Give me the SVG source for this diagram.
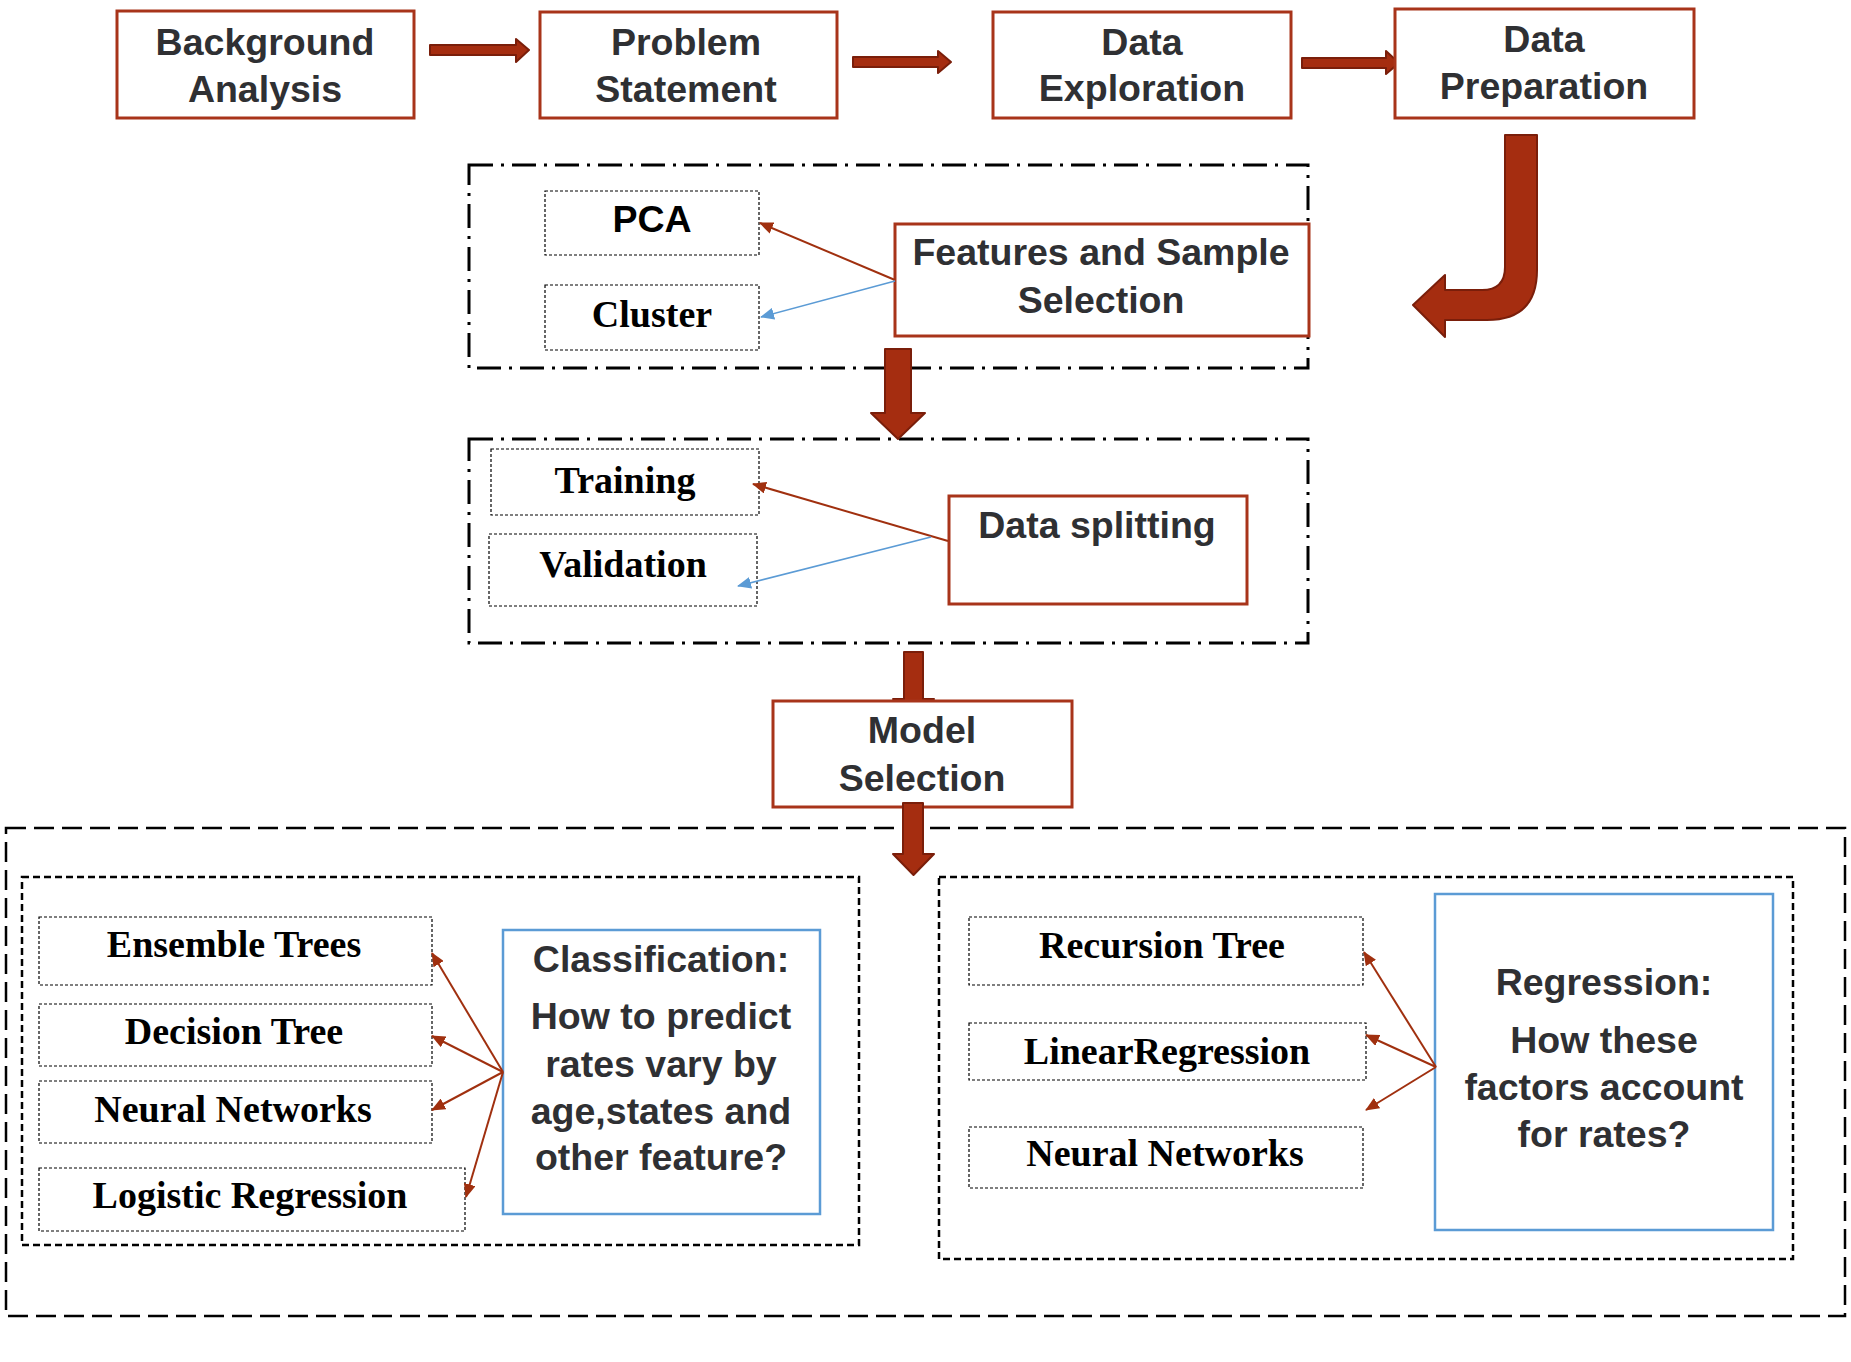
<svg xmlns="http://www.w3.org/2000/svg" width="1851" height="1362" viewBox="0 0 1851 1362">
<style>
.box{fill:#fff;stroke:#A8341A;stroke-width:3}
.bbox{fill:#fff;stroke:#5B9BD5;stroke-width:2.5}
.item{fill:none;stroke:#000;stroke-width:1.2;stroke-dasharray:3 2}
.dd{fill:none;stroke:#000;stroke-width:3;stroke-dasharray:24 8 3 8}
.outer{fill:none;stroke:#000;stroke-width:2.5;stroke-dasharray:20 8}
.inner{fill:none;stroke:#000;stroke-width:2.5;stroke-dasharray:7 4}
.blk{fill:#A52D10;stroke:#7A1E0A;stroke-width:2;stroke-linejoin:round}
.sans{font-family:"Liberation Sans",Arial,sans-serif;font-weight:bold;font-size:37.5px;fill:#2F3033;text-anchor:middle}
.serif{font-family:"Liberation Serif","Times New Roman",serif;font-weight:bold;font-size:38px;fill:#000;text-anchor:middle}
.red{stroke:#A0300F;stroke-width:2;fill:none}
.blue{stroke:#5B9BD5;stroke-width:1.6;fill:none}
</style>
<defs>
<marker id="ar" markerUnits="userSpaceOnUse" markerWidth="14" markerHeight="12" refX="13" refY="6" orient="auto"><path d="M0,0 L14,6 L0,12 Z" fill="#A0300F"/></marker>
<marker id="ab" markerUnits="userSpaceOnUse" markerWidth="14" markerHeight="12" refX="13" refY="6" orient="auto"><path d="M0,0 L14,6 L0,12 Z" fill="#5B9BD5"/></marker>
</defs>
<rect width="1851" height="1362" fill="#fff"/>

<g id="containers">
<rect class="dd" x="469" y="165" width="839" height="203"/>
<rect class="dd" x="469" y="439" width="839" height="204"/>
<rect class="outer" x="6" y="828" width="1839" height="488"/>
<rect class="inner" x="22" y="877" width="837" height="368"/>
<rect class="inner" x="939" y="877" width="854" height="382"/>
</g>

<g id="block-arrows">
<polygon class="blk" points="430,45 516,45 516,39 529,50 516,62 516,55 430,55"/>
<polygon class="blk" points="853,57 938,57 938,51 951,62 938,73 938,67 853,67"/>
<polygon class="blk" points="1302,58 1386,58 1386,51 1399,63 1386,74 1386,68 1302,68"/>
<path class="blk" d="M1505,135 L1537,135 L1537,270 Q1537,320 1487,320 L1445,320 L1445,337 L1413,305 L1445,275 L1445,290 L1482,290 Q1505,290 1505,267 Z"/>
<polygon class="blk" points="885,349 911,349 911,413 925,413 898,439 871,413 885,413"/>
<polygon class="blk" points="904,652 923,652 923,699 934,699 913.5,725 893,699 904,699"/>
</g>

<g id="background-analysis">
<rect class="box" x="117" y="11" width="297" height="107"/>
<text class="sans" x="265" y="55">Background</text>
<text class="sans" x="265" y="102">Analysis</text>
</g>
<g id="problem-statement">
<rect class="box" x="540" y="12" width="297" height="106"/>
<text class="sans" x="686" y="55">Problem</text>
<text class="sans" x="686" y="102">Statement</text>
</g>
<g id="data-exploration">
<rect class="box" x="993" y="12" width="298" height="106"/>
<text class="sans" x="1142" y="55">Data</text>
<text class="sans" x="1142" y="101">Exploration</text>
</g>
<g id="data-preparation">
<rect class="box" x="1395" y="9" width="299" height="109"/>
<text class="sans" x="1544" y="52">Data</text>
<text class="sans" x="1544" y="99">Preparation</text>
</g>

<g id="pca">
<rect class="item" x="545" y="191" width="214" height="64"/>
<text class="sans" x="652" y="232" style="fill:#000">PCA</text>
</g>
<g id="cluster">
<rect class="item" x="545" y="285" width="214" height="65"/>
<text class="serif" x="652" y="327">Cluster</text>
</g>
<g id="features-sample-selection">
<rect class="box" x="895" y="224" width="414" height="112"/>
<text class="sans" x="1101" y="265">Features and Sample</text>
<text class="sans" x="1101" y="313">Selection</text>
</g>

<g id="training">
<rect class="item" x="491" y="449" width="268" height="66"/>
<text class="serif" x="625" y="493">Training</text>
</g>
<g id="validation">
<rect class="item" x="489" y="534" width="268" height="72"/>
<text class="serif" x="623" y="577">Validation</text>
</g>
<g id="data-splitting">
<rect class="box" x="949" y="496" width="298" height="108"/>
<text class="sans" x="1097" y="538">Data splitting</text>
</g>

<g id="model-selection">
<rect class="box" x="773" y="701" width="299" height="106"/>
<text class="sans" x="922" y="743">Model</text>
<text class="sans" x="922" y="791">Selection</text>
</g>
<polygon class="blk" points="903,803 923,803 923,854 934,854 913.5,875 893,854 903,854"/>

<g id="ensemble-trees">
<rect class="item" x="39" y="917" width="393" height="68"/>
<text class="serif" x="234" y="957">Ensemble Trees</text>
</g>
<g id="decision-tree">
<rect class="item" x="39" y="1004" width="393" height="62"/>
<text class="serif" x="234" y="1044">Decision Tree</text>
</g>
<g id="neural-networks-c">
<rect class="item" x="39" y="1081" width="393" height="62"/>
<text class="serif" x="233" y="1122">Neural Networks</text>
</g>
<g id="logistic-regression">
<rect class="item" x="39" y="1168" width="426" height="63"/>
<text class="serif" x="250" y="1208">Logistic Regression</text>
</g>
<g id="classification">
<rect class="bbox" x="503" y="930" width="317" height="284"/>
<text class="sans" x="661" y="972">Classification:</text>
<text class="sans" x="661" y="1029">How to predict</text>
<text class="sans" x="661" y="1077">rates vary by</text>
<text class="sans" x="661" y="1124">age,states and</text>
<text class="sans" x="661" y="1170">other feature?</text>
</g>

<g id="recursion-tree">
<rect class="item" x="969" y="917" width="394" height="68"/>
<text class="serif" x="1162" y="958">Recursion Tree</text>
</g>
<g id="linear-regression">
<rect class="item" x="969" y="1023" width="397" height="57"/>
<text class="serif" x="1167" y="1064">LinearRegression</text>
</g>
<g id="neural-networks-r">
<rect class="item" x="969" y="1127" width="394" height="61"/>
<text class="serif" x="1165" y="1166">Neural Networks</text>
</g>
<g id="regression">
<rect class="bbox" x="1435" y="894" width="338" height="336"/>
<text class="sans" x="1604" y="995">Regression:</text>
<text class="sans" x="1604" y="1053">How these</text>
<text class="sans" x="1604" y="1100">factors account</text>
<text class="sans" x="1604" y="1147">for rates?</text>
</g>

<g id="connectors">
<line class="red" x1="895" y1="280" x2="760" y2="223" marker-end="url(#ar)"/>
<line class="blue" x1="895" y1="281" x2="761" y2="317" marker-end="url(#ab)"/>
<line class="red" x1="948" y1="541" x2="753" y2="484" marker-end="url(#ar)"/>
<line class="blue" x1="931" y1="537" x2="738" y2="586" marker-end="url(#ab)"/>
<line class="red" x1="503" y1="1072" x2="432" y2="953" marker-end="url(#ar)"/>
<line class="red" x1="503" y1="1072" x2="432" y2="1036" marker-end="url(#ar)"/>
<line class="red" x1="503" y1="1072" x2="432" y2="1110" marker-end="url(#ar)"/>
<line class="red" x1="503" y1="1072" x2="466" y2="1197" marker-end="url(#ar)"/>
<line class="red" x1="1436" y1="1067" x2="1364" y2="952" marker-end="url(#ar)"/>
<line class="red" x1="1436" y1="1067" x2="1366" y2="1035" marker-end="url(#ar)"/>
<line class="red" x1="1436" y1="1067" x2="1366" y2="1110" marker-end="url(#ar)"/>
</g>
</svg>
